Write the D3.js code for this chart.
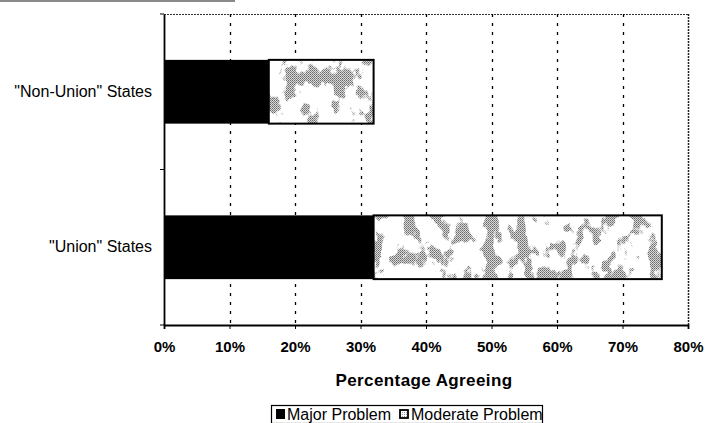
<!DOCTYPE html>
<html>
<head>
<meta charset="utf-8">
<script src="https://cdn.jsdelivr.net/npm/d3@7"></script>
<style>
  html, body { margin: 0; padding: 0; background: #fff; }
  svg { display: block; font-family: Arial, "Liberation Sans", sans-serif; }
</style>
</head>
<body>
<svg id="chart" width="705" height="423"></svg>
<script>
// Survey results: share agreeing that it is a problem, by state group
const categories = ['"Non-Union" States', '"Union" States'];
const majorProblem = [16, 32];
const moderateProblem = [16, 44];
const seriesNames = ["Major Problem", "Moderate Problem"];
const xTicks = [0, 10, 20, 30, 40, 50, 60, 70, 80];

const svg = d3.select("#chart");
const margin = { left: 164, top: 14, right: 17, bottom: 98 };
const W = 705, H = 423;
const x0 = margin.left, x1 = W - margin.right;
const y0 = margin.top, y1 = H - margin.bottom;

const x = d3.scaleLinear().domain([0, 80]).range([x0, x1]);
const y = d3.scaleBand().domain(categories).range([y0, y1]).paddingInner(0.59).paddingOuter(0.295);

const defs = svg.append("defs");

// dithered grey used inside the mottled blotches
const checker = defs.append("pattern").attr("id", "checker").attr("width", 2).attr("height", 2)
  .attr("patternUnits", "userSpaceOnUse");
checker.append("rect").attr("width", 2).attr("height", 2).attr("fill", "#d8d8d8");
checker.append("rect").attr("width", 1).attr("height", 1).attr("fill", "#6a6a6a");
checker.append("rect").attr("x", 1).attr("y", 1).attr("width", 1).attr("height", 1).attr("fill", "#8a8a8a");

// noise blotches: white where the texture shows, transparent elsewhere
const f = defs.append("filter").attr("id", "blotch")
  .attr("filterUnits", "userSpaceOnUse").attr("x", 0).attr("y", 0).attr("width", W).attr("height", H);
f.append("feTurbulence").attr("type", "fractalNoise").attr("baseFrequency", "0.06 0.045")
  .attr("numOctaves", 4).attr("seed", 11).attr("result", "noise");
f.append("feColorMatrix").attr("in", "noise").attr("type", "matrix")
  .attr("values", "0 0 0 0 0  0 0 0 0 0  0 0 0 0 0  0 0 0 -14 6.6").attr("result", "mask");
f.append("feFlood").attr("flood-color", "#fff").attr("result", "white");
f.append("feComposite").attr("in", "white").attr("in2", "mask").attr("operator", "in");
const mask = defs.append("mask").attr("id", "mottleMask").attr("maskUnits", "userSpaceOnUse")
  .attr("x", 0).attr("y", 0).attr("width", W).attr("height", H);
mask.append("rect").attr("width", W).attr("height", H).attr("fill", "#fff").attr("filter", "url(#blotch)");

// legend swatch pattern
const pat = defs.append("pattern").attr("id", "dots").attr("width", 2).attr("height", 2)
  .attr("patternUnits", "userSpaceOnUse");
pat.append("rect").attr("width", 2).attr("height", 2).attr("fill", "#fff");
pat.append("rect").attr("width", 1).attr("height", 1).attr("fill", "#999");

// decorative rule at the top-left
svg.append("line").attr("x1", 0).attr("x2", 235).attr("y1", 1).attr("y2", 1)
  .attr("stroke", "#8a8a8a").attr("stroke-width", 2);

// plot frame: dotted top and right edges
svg.append("line").attr("x1", x0).attr("x2", x1).attr("y1", y0 + 0.5).attr("y2", y0 + 0.5)
  .attr("stroke", "#333").attr("stroke-width", 1.2).attr("stroke-dasharray", "2,1");
svg.append("line").attr("x1", x1 + 0.5).attr("x2", x1 + 0.5).attr("y1", y0).attr("y2", y1)
  .attr("stroke", "#222").attr("stroke-width", 1.5).attr("stroke-dasharray", "2,1");

// vertical dashed gridlines
svg.append("g").selectAll("line").data(xTicks.slice(1, -1)).join("line")
  .attr("x1", d => Math.round(x(d)) + 0.5).attr("x2", d => Math.round(x(d)) + 0.5)
  .attr("y1", y0).attr("y2", y1)
  .attr("stroke", "#000").attr("stroke-width", 1.3).attr("stroke-dasharray", "3,6");

// stacked bars
const rows = categories.map((c, i) => ({ c, major: majorProblem[i], moderate: moderateProblem[i] }));
const g = svg.append("g");
rows.forEach(r => {
  const by = y(r.c), bh = y.bandwidth();
  g.append("rect").attr("x", x(0)).attr("y", by).attr("width", x(r.major) - x(0)).attr("height", bh)
    .attr("fill", "#000");
  const mx = x(r.major), mw = x(r.major + r.moderate) - x(r.major);
  g.append("rect").attr("x", mx).attr("y", by).attr("width", mw).attr("height", bh).attr("fill", "#fff");
  g.append("rect").attr("x", mx).attr("y", by).attr("width", mw).attr("height", bh)
    .attr("fill", "url(#checker)").attr("mask", "url(#mottleMask)");
  g.append("rect").attr("x", mx).attr("y", by).attr("width", mw).attr("height", bh)
    .attr("fill", "none").attr("stroke", "#000").attr("stroke-width", 2);
});

// x axis
const xAxis = svg.append("g").attr("transform", `translate(0,${y1})`)
  .call(d3.axisBottom(x).tickValues(xTicks).tickFormat(d => d + "%").tickSize(4).tickPadding(12));
xAxis.select(".domain").attr("stroke", "#000").attr("stroke-width", 1.8);
xAxis.selectAll(".tick line").attr("stroke", "#000");
xAxis.selectAll(".tick text").attr("font-size", 15).attr("font-weight", "bold").attr("fill", "#000")
  .attr("font-family", "Arial, 'Liberation Sans', sans-serif");

// y axis: ticks sit between categories
const yAxis = svg.append("g").attr("transform", `translate(${x0},0)`)
  .call(d3.axisLeft(y).tickSize(0).tickPadding(12));
yAxis.select(".domain").attr("stroke", "#000").attr("stroke-width", 1.8);
yAxis.selectAll(".tick text").attr("font-size", 16).attr("fill", "#000")
  .attr("font-family", "Arial, 'Liberation Sans', sans-serif");
const bounds = [y0, (y(categories[0]) + y.bandwidth() + y(categories[1])) / 2, y1];
yAxis.append("g").selectAll("line").data(bounds).join("line")
  .attr("x1", -4).attr("x2", 0).attr("y1", d => d).attr("y2", d => d).attr("stroke", "#000");

// axis title
svg.append("text").attr("x", 424).attr("y", 386).attr("text-anchor", "middle")
  .attr("font-size", 17).attr("font-weight", "bold").attr("letter-spacing", 0.4).text("Percentage Agreeing");

// legend
const lg = svg.append("g");
lg.append("rect").attr("x", 271.5).attr("y", 405.5).attr("width", 271).attr("height", 18)
  .attr("fill", "#fff").attr("stroke", "#000").attr("stroke-width", 1.2);
lg.append("rect").attr("x", 276).attr("y", 409).attr("width", 9).attr("height", 10).attr("fill", "#000");
lg.append("text").attr("x", 287).attr("y", 419.5).attr("font-size", 16).text(seriesNames[0]);
lg.append("rect").attr("x", 400).attr("y", 410).attr("width", 8).attr("height", 8)
  .attr("fill", "url(#dots)").attr("stroke", "#000").attr("stroke-width", 1.8);
lg.append("text").attr("x", 411).attr("y", 419.5).attr("font-size", 16).text(seriesNames[1]);
</script>
</body>
</html>
